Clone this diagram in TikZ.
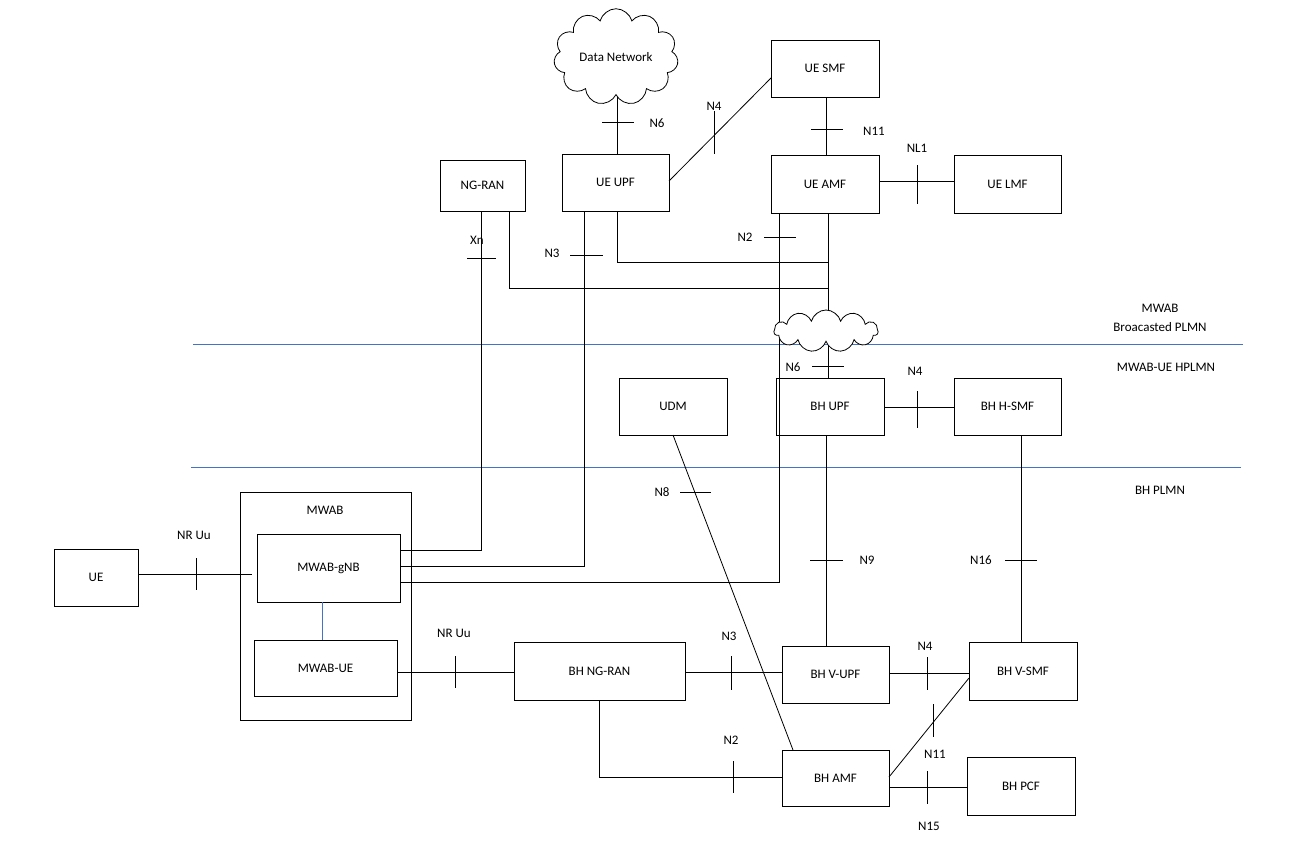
\documentclass[tikz,border=0pt]{standalone}
\usepackage{fontspec}
\setmainfont{Carlito}
\usetikzlibrary{shapes.symbols}
\begin{document}
\begin{tikzpicture}[x=1pt,y=-1pt,font=\fontsize{13}{15}\selectfont,
 box/.style={draw,line width=0.8pt},
 ln/.style={line width=0.8pt},
 bl/.style={draw={rgb,255:red,68;green,114;blue,196},line width=1pt},
 lbl/.style={inner sep=1pt}]
\useasboundingbox (0,0) rectangle (1296,860);
\newcommand{\bx}[5]{\draw[box] (#2,#3) rectangle (#4,#5); \node (#1) at ({(#2+#4)/2},{(#3+#5)/2}) {};}
% boxes
\draw[box] (771,40) rectangle (879,97) node[midway] (smf) {UE SMF};
\draw[box] (562,154) rectangle (669,211) node[midway] (upf) {UE UPF};
\draw[box] (771,155) rectangle (879,213) node[midway] (amf) {UE AMF};
\draw[box] (954,155) rectangle (1061,213) node[midway] (lmf) {UE LMF};
\draw[box] (440,160) rectangle (525,211) node[midway] (ngran) {NG-RAN};
\draw[box] (619,378) rectangle (727,435) node[midway] (udm) {UDM};
\draw[box] (776,378) rectangle (884,435) node[midway] (bhupf) {BH UPF};
\draw[box] (954,378) rectangle (1061,435) node[midway] (hsmf) {BH H-SMF};
\draw[box] (240,492) rectangle (411,720);
\node (mwab) at (325,510) {MWAB};
\draw[box] (257,534) rectangle (400,602) node[midway] (gnb) {MWAB-gNB};
\draw[box] (254,640) rectangle (397,696) node[midway] (mue) {MWAB-UE};
\draw[box] (54,549) rectangle (138,606) node[midway] (ue) {UE};
\draw[box] (514,642) rectangle (685,700) node[midway] (bhran) {BH NG-RAN};
\draw[box] (782,646) rectangle (889,703) node[midway] (vupf) {BH V-UPF};
\draw[box] (969,642) rectangle (1077,700) node[midway] (vsmf) {BH V-SMF};
\draw[box] (782,750) rectangle (889,806) node[midway] (bhamf) {BH AMF};
\draw[box] (967,757) rectangle (1075,815) node[midway] (pcf) {BH PCF};
% clouds
\node[cloud,draw,line width=0.8pt,fill=white,cloud puffs=11,minimum width=118pt,minimum height=78pt,aspect=1.5] (dn) at (616,57) {Data Network};
% blue lines
\draw[bl] (193,344) -- (1243,344);
\draw[bl] (191,467) -- (1241,467);
\node at (1160,308) {MWAB};
\node at (1160,327) {Broacasted PLMN};
\node at (1166,367) {MWAB-UE HPLMN};
\node at (1160,490) {BH PLMN};
% top connectors
\draw[ln] (617,97) -- (617,154); \draw[ln] (602,122)--(634,122); \node at (657,123) {N6};
\draw[ln] (669,181) -- (771,78); \draw[ln] (714,111)--(714,154); \node at (714,106) {N4};
\draw[ln] (826,97) -- (826,155); \draw[ln] (811,129)--(843,129); \node at (874,131) {N11};
\draw[ln] (879,181) -- (954,181); \draw[ln] (917,165)--(917,204); \node at (917,148) {NL1};
% to gNB
\draw[ln] (401,550) -| (481,211); \draw[ln] (467,258)--(496,258); \node at (477,240) {Xn};
\draw[ln] (401,566) -| (584,211); \draw[ln] (570,255)--(603,255); \node at (552,253) {N3};
\draw[ln] (401,582) -| (779,213); \draw[ln] (764,237)--(796,237); \node at (745,237) {N2};
\draw[ln] (509,211) |- (828,288);
\draw[ln] (617,211) |- (828,262);
\draw[ln] (828,213) -- (828,318);
\draw[ln] (828,345) -- (828,378); \draw[ln] (812,366)--(844,366); \node at (793,367) {N6};
\node[cloud,draw,line width=0.8pt,fill=white,cloud puffs=11,minimum width=104pt,minimum height=42pt,aspect=2.5] (cl) at (826,331) {};
\draw[ln] (884,407) -- (954,407); \draw[ln] (917,391)--(917,428); \node at (915,371) {N4};
% lower
\draw[ln] (673,435) -- (793,750); \draw[ln] (680,492)--(711,492); \node at (662,492) {N8};
\draw[ln] (826,435) -- (826,646); \draw[ln] (810,560)--(843,560); \node at (867,560) {N9};
\draw[ln] (1021,435) -- (1021,642); \draw[ln] (1005,560)--(1037,560); \node at (981,560) {N16};
\draw[ln] (138,574) -- (252,574); \draw[ln] (196,558)--(196,590); \node at (194,535) {NR Uu};
\draw[bl] (322,602) -- (322,640);
\draw[ln] (397,672) -- (514,672); \draw[ln] (455,656)--(455,688); \node at (454,633) {NR Uu};
\draw[ln] (685,672) -- (782,672); \draw[ln] (731,656)--(731,690); \node at (729,636) {N3};
\draw[ln] (889,673) -- (969,673); \draw[ln] (927,657)--(927,690); \node at (925,646) {N4};
\draw[ln] (599,700) |- (782,777); \draw[ln] (733,761)--(733,793); \node at (731,740) {N2};
\draw[ln] (889,777) -- (969,678); \draw[ln] (933,704)--(933,737); \node at (935,754) {N11};
\draw[ln] (889,787) -- (967,787); \draw[ln] (927,771)--(927,804); \node at (929,826) {N15};
\end{tikzpicture}
\end{document}
